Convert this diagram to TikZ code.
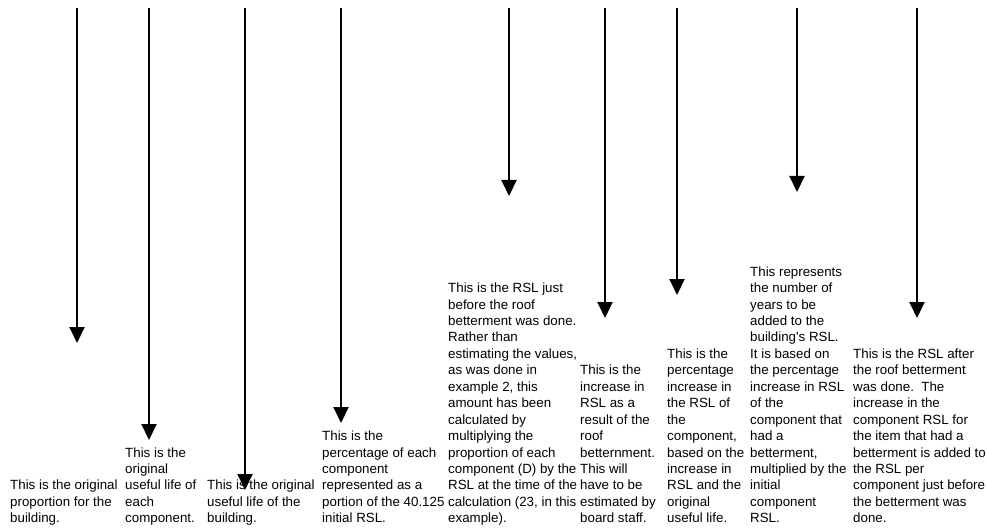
\documentclass[tikz,border=0pt]{standalone}
\usepackage{fontspec}
\setmainfont{Liberation Sans}
\usetikzlibrary{arrows.meta}

\begin{document}
\begin{tikzpicture}[x=1pt, y=-1pt, >={Triangle[width=15pt,length=16pt]},
  note/.style={anchor=south west, inner sep=0pt, align=left, font=\fontsize{13.33}{16.45}\selectfont, execute at end node=\strut},
  pointer/.style={->, line width=2pt}]
\useasboundingbox (0,0) rectangle (987,529);

% Notes
\node[note] (orig) at (10,528) {This is the original\\proportion for the\\building.};
\node[note] (lifecomp) at (125,528) {This is the\\original\\useful life of\\each\\component.};
\node[note] (lifebldg) at (207,528) {This is the original\\useful life of the\\building.};
\node[note] (pct) at (322,528) {This is the\\percentage of each\\component\\represented as a\\portion of the 40.125\\initial RSL.};
\node[note] (before) at (448,528) {This is the RSL just\\before the roof\\betterment was done.\\Rather than\\estimating the values,\\as was done in\\example 2, this\\amount has been\\calculated by\\multiplying the\\proportion of each\\component (D) by the\\RSL at the time of the\\calculation (23, in this\\example).};
\node[note] (incr) at (580,528) {This is the\\increase in\\RSL as a\\result of the\\roof\\betternment.\\This will\\have to be\\estimated by\\board staff.};
\node[note] (pctincr) at (667,528) {This is the\\percentage\\increase in\\the RSL of\\the\\component,\\based on the\\increase in\\RSL and the\\original\\useful life.};
\node[note] (years) at (750,528) {This represents\\the number of\\years to be\\added to the\\building\textquotesingle s RSL.\\It is based on\\the percentage\\increase in RSL\\of the\\component that\\had a\\betterment,\\multiplied by the\\initial\\component\\RSL.};
\node[note] (after) at (853,528) {This is the RSL after\\the roof betterment\\was done.\ \ The\\increase in the\\component RSL for\\the item that had a\\betterment is added to\\the RSL per\\component just before\\the betterment was\\done.};

% Arrow ends
\coordinate (s1) at (77,8);   \coordinate (e1) at (77,343);
\coordinate (s2) at (149,8);  \coordinate (e2) at (149,440);
\coordinate (s3) at (245,8);  \coordinate (e3) at (245,490);
\coordinate (s4) at (341,8);  \coordinate (e4) at (341,423);
\coordinate (s5) at (509,8);  \coordinate (e5) at (509,196);
\coordinate (s6) at (605,8);  \coordinate (e6) at (605,318);
\coordinate (s7) at (677,8);  \coordinate (e7) at (677,295);
\coordinate (s8) at (797,8);  \coordinate (e8) at (797,192);
\coordinate (s9) at (917,8);  \coordinate (e9) at (917,318);

% Arrows
\draw[pointer] (s1) -- (e1);
\draw[pointer] (s2) -- (e2);
\draw[pointer] (s3) -- (e3);
\draw[pointer] (s4) -- (e4);
\draw[pointer] (s5) -- (e5);
\draw[pointer] (s6) -- (e6);
\draw[pointer] (s7) -- (e7);
\draw[pointer] (s8) -- (e8);
\draw[pointer] (s9) -- (e9);
\end{tikzpicture}
\end{document}
